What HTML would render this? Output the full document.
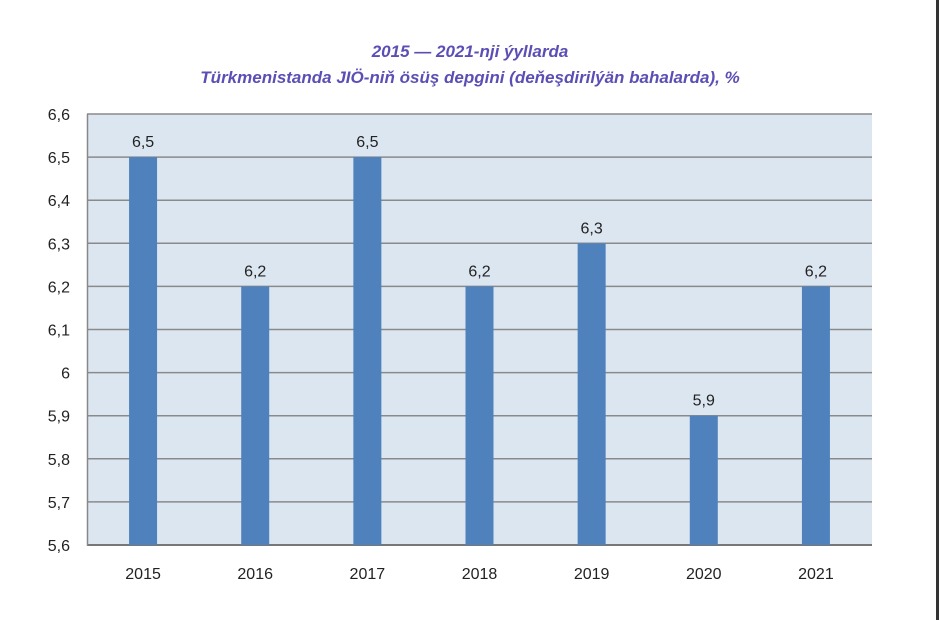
<!DOCTYPE html>
<html><head><meta charset="utf-8"><style>
body{margin:0;background:#fff;}
svg text{font-family:"Liberation Sans",Arial,sans-serif;}
</style></head><body>
<svg width="939" height="620" viewBox="0 0 939 620">
<rect x="936" y="0" width="3" height="620" fill="#333"/>
<text x="470" y="57" text-anchor="middle" font-size="17" font-style="italic" font-weight="bold" fill="#5b4fb5">2015 — 2021-nji ýyllarda</text>
<text x="470" y="83" text-anchor="middle" font-size="17" font-style="italic" font-weight="bold" fill="#5b4fb5">Türkmenistanda JIÖ-niň ösüş depgini (deňeşdirilýän bahalarda), %</text>
<rect x="87" y="114" width="785" height="431" fill="#dce6f1"/>
<g id="grid"></g><g id="bars"></g><g id="labels"></g>
<line x1="87.5" y1="114" x2="87.5" y2="546" stroke="#888" stroke-width="1.5"/>
</svg>
<script>
const categories=["2015","2016","2017","2018","2019","2020","2021"];
const values=[6.5,6.2,6.5,6.2,6.3,5.9,6.2];
const valueLabels=["6,5","6,2","6,5","6,2","6,3","5,9","6,2"];
const ticks=[5.6,5.7,5.8,5.9,6.0,6.1,6.2,6.3,6.4,6.5,6.6];
const tickLabels=["5,6","5,7","5,8","5,9","6","6,1","6,2","6,3","6,4","6,5","6,6"];
const ns="http://www.w3.org/2000/svg";
const X0=87,X1=872,Y0=545,Y1=114,YMIN=5.6,YMAX=6.6;
const y=v=>Y0-(v-YMIN)/(YMAX-YMIN)*(Y0-Y1);
const bw=(X1-X0)/categories.length;
const xc=i=>X0+bw*(i+0.5);
function mk(t,a,p){const e=document.createElementNS(ns,t);for(const k in a)e.setAttribute(k,a[k]);p.appendChild(e);return e;}
const g=document.getElementById('grid'),b=document.getElementById('bars'),l=document.getElementById('labels');
ticks.forEach((t,i)=>{
 if(i>0){const ln=mk('line',{x1:X0,x2:X1,y1:y(t),y2:y(t),stroke:i===0?'#888':'#8a8a8a','stroke-width':1.5},g);
 
 }
 const tx=mk('text',{x:70,y:y(t)+6,'text-anchor':'end','font-size':16,fill:'#222'},l);
 tx.textContent=tickLabels[i];
 
 
});
const ax=mk('line',{x1:X0,x2:X1,y1:Y0,y2:Y0,stroke:'#777','stroke-width':2},g);


categories.forEach((c,i)=>{
 const r=mk('rect',{x:xc(i)-14,y:y(values[i]),width:28,height:Y0-y(values[i]),fill:'#4f81bd'},b);
 
 
 const vt=mk('text',{x:xc(i),y:y(values[i])-10,'text-anchor':'middle','font-size':16,fill:'#222'},l);
 vt.textContent=valueLabels[i];
 
 
 const ct=mk('text',{x:xc(i),y:579,'text-anchor':'middle','font-size':16,fill:'#222'},l);
 ct.textContent=c;
 
 
});
</script>
</body></html>
